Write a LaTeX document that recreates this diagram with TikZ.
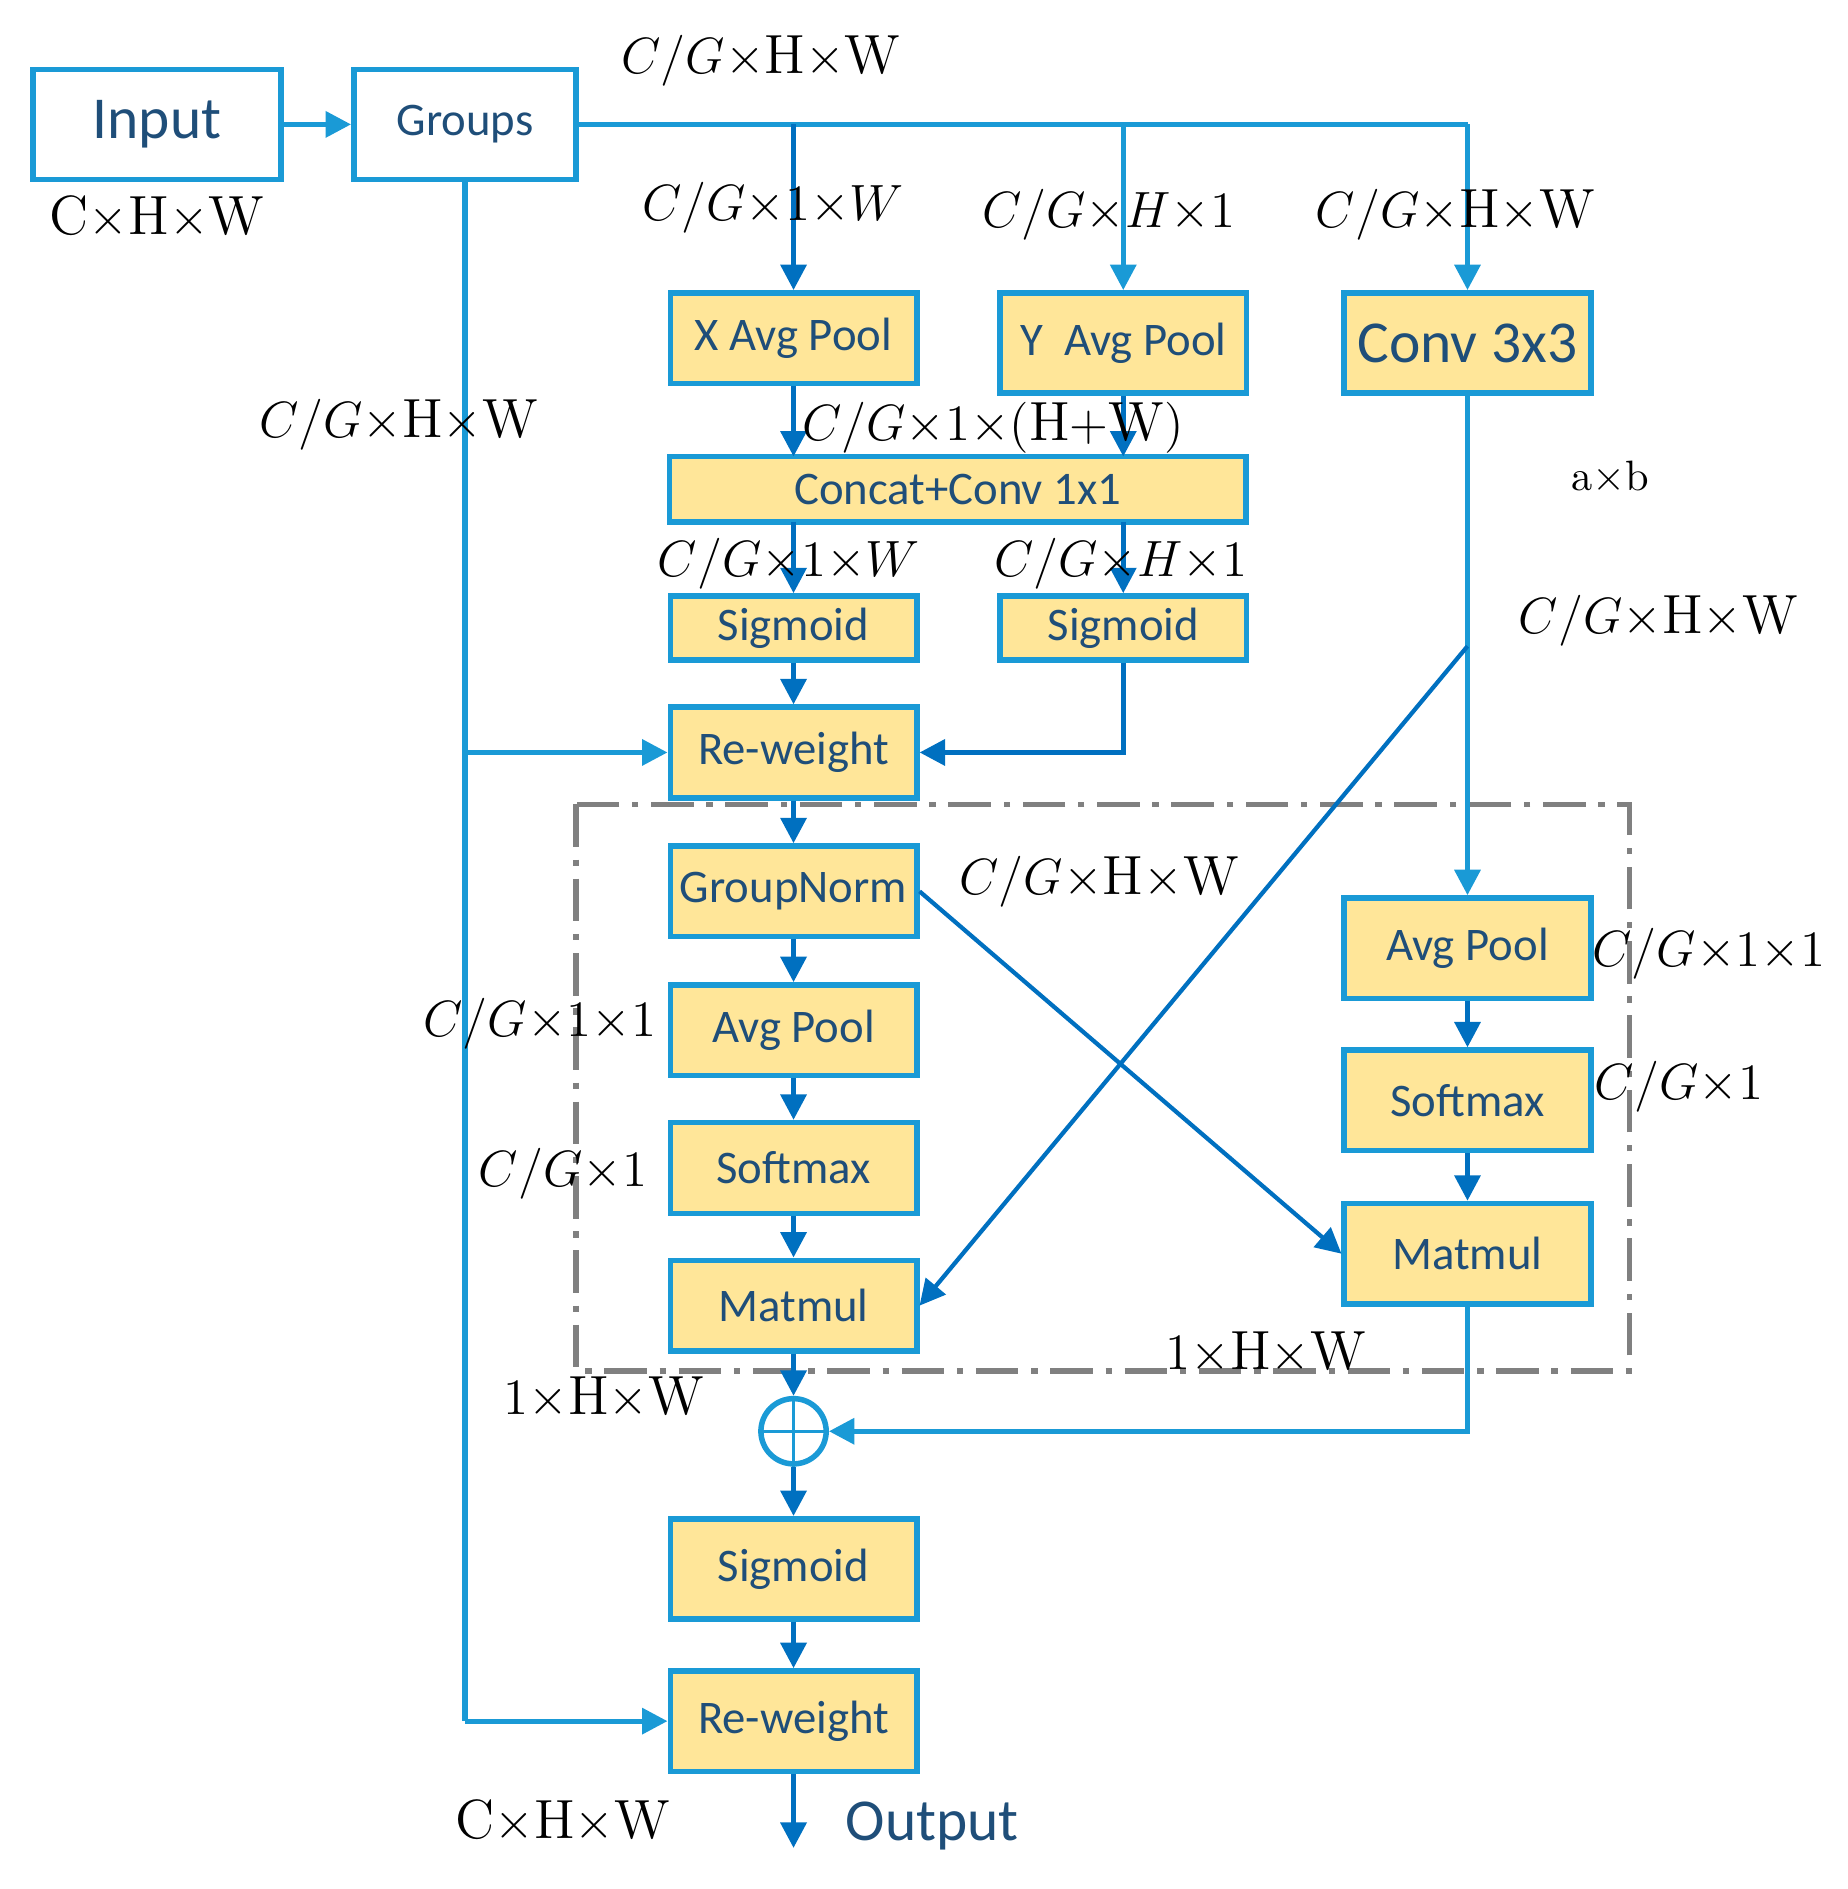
\documentclass[tikz,border=0pt]{standalone}
\usepackage{fontspec}
\setsansfont{Carlito}
\usetikzlibrary{arrows.meta}
\definecolor{bl}{RGB}{26,154,214}
\definecolor{dbl}{RGB}{0,112,192}
\definecolor{yl}{RGB}{255,230,153}
\definecolor{tx}{RGB}{31,78,121}
\begin{document}
\begin{tikzpicture}[x=0.01cm,y=-0.01cm,
 box/.style={draw=bl,line width=1.3pt,fill=yl,minimum width=2.04cm,minimum height=0.75cm,font=\sffamily\fontsize{11}{12}\selectfont,text=tx,inner sep=0pt},
 wbox/.style={draw=bl,line width=1.3pt,fill=white,minimum width=2.05cm,minimum height=0.91cm,inner sep=0pt,text=tx,font=\sffamily},
 ar/.style={draw=dbl,line width=1.2pt,-{Triangle[length=6pt,width=6pt]}},
 la/.style={draw=bl,line width=1.2pt,-{Triangle[length=6pt,width=6pt]}},
 ln/.style={draw=bl,line width=1.2pt},
 lab/.style={font=\fontsize{13}{15}\selectfont,inner sep=0pt}]
\useasboundingbox (0,0) rectangle (1530,1564);
\draw[gray,line width=1.3pt,dash pattern=on 10pt off 3pt on 1.5pt off 3pt] (477,666) rectangle (1349,1135);
\node[wbox,font=\sffamily\fontsize{14}{16}\selectfont] (in) at (130,103) {Input};
\node[wbox,minimum width=1.84cm,font=\sffamily\fontsize{11}{12}\selectfont] (gr) at (385,103) {Groups};
\node[box] (xp) at (657,280) {X Avg Pool};
\node[box,minimum height=0.83cm] (yp) at (930,284) {Y\ \ Avg Pool};
\node[box,minimum height=0.83cm,font=\sffamily\fontsize{14}{16}\selectfont] (cv) at (1215,284) {Conv 3x3};
\node[box,minimum width=4.77cm,minimum height=0.54cm] (cc) at (793,405) {Concat+Conv 1x1};
\node[box,minimum height=0.53cm] (s1) at (657,520) {Sigmoid};
\node[box,minimum height=0.53cm] (s2) at (930,520) {Sigmoid};
\node[box] (rw1) at (657,623) {Re-weight};
\node[box] (gn) at (657,738) {GroupNorm};
\node[box] (apl) at (657,853) {Avg Pool};
\node[box] (sml) at (657,967) {Softmax};
\node[box] (mml) at (657,1081) {Matmul};
\node[box,minimum height=0.83cm] (apr) at (1215,785) {Avg Pool};
\node[box,minimum height=0.83cm] (smr) at (1215,911) {Softmax};
\node[box,minimum height=0.83cm] (mmr) at (1215,1038) {Matmul};
\node[circle,draw=bl,line width=1.3pt,minimum size=0.54cm,inner sep=0pt] (pl) at (657,1185) {};
\draw[bl,line width=0.8pt] (pl.north)--(pl.south) (pl.west)--(pl.east);
\node[box,minimum height=0.83cm] (s3) at (657,1299) {Sigmoid};
\node[box,minimum height=0.83cm] (rw2) at (657,1425) {Re-weight};
\coordinate (out) at (657,1530);
\node[font=\sffamily\fontsize{14}{16}\selectfont,text=tx] at (772,1512) {Output};
\coordinate (cj) at (1215,535);
% connectors
\draw[la] (in) -- (gr);
\draw[ln] (gr.east) -- (1215,103);
\draw[la] (1215,103) -- (cv.north);
\draw[ar] (657,103) -- (xp.north);
\draw[la] (930,103) -- (yp.north);
\draw[ln] (gr.south) -- (385,1425);
\draw[la] (385,1425) -- (rw2.west);
\draw[la] (385,623) -- (rw1.west);
\draw[ar] (xp.south) -- (657,378);
\draw[ar] (yp.south) -- (930,378);
\draw[ar] (657,432) -- (s1.north);
\draw[ar] (930,432) -- (s2.north);
\draw[ar] (s1) -- (rw1);
\draw[ar] (s2.south) |- (rw1.east);
\draw[ar] (rw1) -- (gn);
\draw[ar] (gn) -- (apl);
\draw[ar] (apl) -- (sml);
\draw[ar] (sml) -- (mml);
\draw[ar] (mml) -- (pl);
\draw[ln] (cv.south) -- (cj);
\draw[la] (cj) -- (apr.north);
\draw[dbl,line width=1pt,-{Triangle[length=6pt,width=6pt]}] (cj) -- (mml.east);
\draw[dbl,line width=1pt,-{Triangle[length=6pt,width=6pt]}] (gn.east) -- (mmr.west);
\draw[ar] (apr) -- (smr);
\draw[ar] (smr) -- (mmr);
\draw[la] (mmr.south) |- (pl.east);
\draw[ar] (pl) -- (s3);
\draw[ar] (s3) -- (rw2);
\draw[ar] (rw2) -- (out);
% labels
\node[lab] at (630,50) {$C/G{\times}\mathrm{H}{\times}\mathrm{W}$};
\node[lab] at (130,180) {$\mathrm{C}{\times}\mathrm{H}{\times}\mathrm{W}$};
\node[lab] at (640,172) {$C/G{\times}1{\times}W$};
\node[lab] at (918,178) {$C/G{\times}H{\times}1$};
\node[lab] at (1205,178) {$C/G{\times}\mathrm{H}{\times}\mathrm{W}$};
\node[lab] at (330,352) {$C/G{\times}\mathrm{H}{\times}\mathrm{W}$};
\node[lab] at (822,354) {$C/G{\times}1{\times}(\mathrm{H}{+}\mathrm{W})$};
\node[font=\fontsize{10}{12}\selectfont] at (1333,395) {$\mathrm{a}{\times}\mathrm{b}$};
\node[lab] at (653,467) {$C/G{\times}1{\times}W$};
\node[lab] at (928,467) {$C/G{\times}H{\times}1$};
\node[lab] at (1373,514) {$C/G{\times}\mathrm{H}{\times}\mathrm{W}$};
\node[lab] at (910,730) {$C/G{\times}\mathrm{H}{\times}\mathrm{W}$};
\node[lab] at (1415,790) {$C/G{\times}1{\times}1$};
\node[lab] at (1390,900) {$C/G{\times}1$};
\node[lab] at (447,848) {$C/G{\times}1{\times}1$};
\node[lab] at (466,972) {$C/G{\times}1$};
\node[lab] at (1048,1120) {$1{\times}\mathrm{H}{\times}\mathrm{W}$};
\node[lab] at (500,1157) {$1{\times}\mathrm{H}{\times}\mathrm{W}$};
\node[lab] at (466,1508) {$\mathrm{C}{\times}\mathrm{H}{\times}\mathrm{W}$};
\end{tikzpicture}
\end{document}
